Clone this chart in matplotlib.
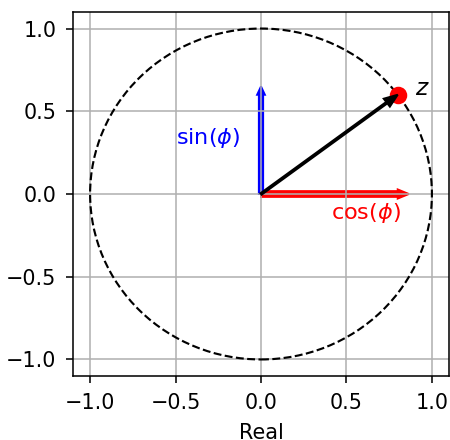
import numpy as np
import matplotlib
matplotlib.use("Agg")
import matplotlib.pyplot as plt
from matplotlib.patches import Circle

# data
z_real = 0.8
z_imag = 0.6
ticks = [-1.0, -0.5, 0.0, 0.5, 1.0]
tick_labels = ["\u22121.0", "\u22120.5", "0.0", "0.5", "1.0"]

DPI = 140
fig = plt.figure(figsize=(450 / DPI, 440 / DPI), dpi=DPI)
ax = fig.add_axes([73/450, 64/440, 376/450, 364/440])

ax.add_patch(Circle((0, 0), 1.0, fill=False, ls="--", lw=1.1, color="black", zorder=2))

ax.arrow(0, 0, z_real, 0, width=0.035, head_width=0.055, head_length=0.065,
         color="red", length_includes_head=False)
ax.arrow(0, 0, 0, z_imag, width=0.025, head_width=0.045, head_length=0.05,
         color="blue", length_includes_head=False)
ax.plot([z_real], [z_imag], "o", color="red", ms=8, zorder=2.5)
ax.arrow(0, 0, z_real, z_imag, width=0.011, head_width=0.06, head_length=0.08,
         color="black", length_includes_head=True, zorder=3)

ax.text(0.9, 0.6, "$z$", fontsize=12, color="black")
ax.text(-0.5, 0.3, r"$\sin(\phi)$", fontsize=11.5, color="blue")
ax.text(0.41, -0.15, r"$\cos(\phi)$", fontsize=11.5, color="red")

ax.set_xlim(-1.1, 1.1)
ax.set_ylim(-1.1, 1.1)
ax.set_xticks(ticks)
ax.set_xticklabels(tick_labels)
ax.set_yticks(ticks)
ax.set_yticklabels(tick_labels)
ax.tick_params(labelsize=10.7, length=3.5, pad=5)
ax.grid(True)
ax.set_xlabel("Real", fontsize=10.7, labelpad=5.5)

fig.savefig("out.png", dpi=DPI)
